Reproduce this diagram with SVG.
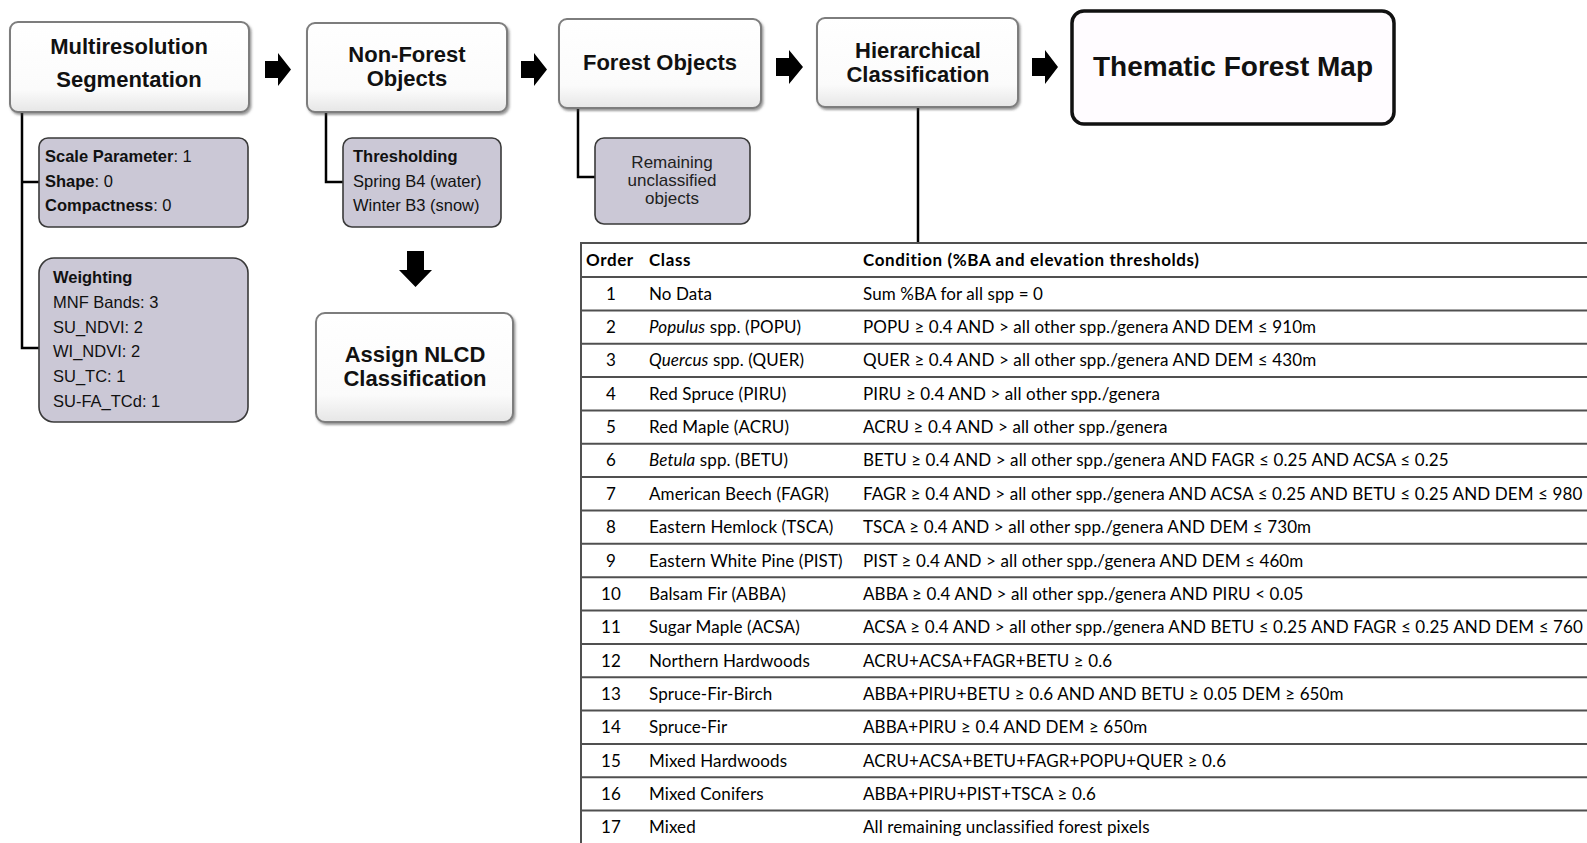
<svg xmlns="http://www.w3.org/2000/svg" width="1587" height="843" viewBox="0 0 1587 843">
<defs>
  <linearGradient id="gWhite" x1="0" y1="0" x2="0" y2="1">
    <stop offset="0" stop-color="#ffffff"/>
    <stop offset="0.75" stop-color="#fbfbfb"/>
    <stop offset="1" stop-color="#e6e6e6"/>
  </linearGradient>
  <filter id="shadow" x="-10%" y="-10%" width="125%" height="130%">
    <feDropShadow dx="1.5" dy="2" stdDeviation="1.2" flood-color="#444" flood-opacity="0.55"/>
  </filter>
</defs>
<style>
  .main { fill: url(#gWhite); stroke: #7d7d7d; stroke-width: 2; filter: url(#shadow); }
  .sub { fill: #cbc8d6; stroke: #3a3a3a; stroke-width: 1.6; }
  .big { fill: #fffcff; stroke: #111; stroke-width: 3.5; }
  .lbl { font-family: "Liberation Sans", Arial, sans-serif; font-weight: bold; font-size: 22px; fill: #111; text-anchor: middle; }
  .lblbig { font-family: "Liberation Sans", Arial, sans-serif; font-weight: bold; font-size: 28px; fill: #111; text-anchor: middle; }
  .sm { font-family: "Liberation Sans", Arial, sans-serif; font-size: 16.5px; fill: #111; }
  .smc { font-family: "Liberation Sans", Arial, sans-serif; font-size: 17px; fill: #222; text-anchor: middle; }
  .b { font-weight: bold; }
  .conn { fill: none; stroke: #000; stroke-width: 2.5; }
  .barrow { fill: #000; }
  .tline { stroke: #505050; stroke-width: 2; }
  .tt { font-family: Lato, "Carlito", "Open Sans", sans-serif; font-size: 17px; letter-spacing: 0.1px; fill: #000; }
  .th { letter-spacing: 0.6px; }
  .num { text-anchor: middle; }
  .i { font-style: italic; }
</style>

<g id="connectors">
  <polyline class="conn" points="22,112 22,348 39,348"/>
  <line class="conn" x1="22" y1="182" x2="39" y2="182"/>
  <polyline class="conn" points="326,112 326,182 343,182"/>
  <polyline class="conn" points="578,108 578,177 595,177"/>
  <line class="conn" x1="918" y1="107" x2="918" y2="243"/>
  <path class="barrow" d="M265,61 H278 V53 L291,69.5 L278,86 V78 H265 Z"/>
  <path class="barrow" d="M521,61 H534 V53 L547,69.5 L534,86 V78 H521 Z"/>
  <path class="barrow" d="M776,58 H789 V50 L803,67 L789,84 V76 H776 Z"/>
  <path class="barrow" d="M1032,58 H1045 V50 L1058,67 L1045,84 V76 H1032 Z"/>
  <path class="barrow" d="M407,251 H424 V270 H432 L415.5,287 L399,270 H407 Z"/>
</g>

<g id="multiresolution">
  <rect class="main" x="10" y="22" width="239" height="90" rx="8"/>
  <text class="lbl" x="129" y="54">Multiresolution</text>
  <text class="lbl" x="129" y="87">Segmentation</text>
</g>

<g id="scale-params">
  <rect class="sub" x="39" y="138" width="209" height="89" rx="9"/>
  <text class="sm" x="45" y="162"><tspan class="b">Scale Parameter</tspan>: 1</text>
  <text class="sm" x="45" y="187"><tspan class="b">Shape</tspan>: 0</text>
  <text class="sm" x="45" y="211"><tspan class="b">Compactness</tspan>: 0</text>
</g>

<g id="weighting">
  <rect class="sub" x="39" y="258" width="209" height="164" rx="15"/>
  <text class="sm b" x="53" y="283">Weighting</text>
  <text class="sm" x="53" y="308">MNF Bands: 3</text>
  <text class="sm" x="53" y="333">SU_NDVI: 2</text>
  <text class="sm" x="53" y="357">WI_NDVI: 2</text>
  <text class="sm" x="53" y="382">SU_TC: 1</text>
  <text class="sm" x="53" y="407">SU-FA_TCd: 1</text>
</g>

<g id="non-forest">
  <rect class="main" x="307" y="23" width="200" height="89" rx="8"/>
  <text class="lbl" x="407" y="62">Non-Forest</text>
  <text class="lbl" x="407" y="86">Objects</text>
</g>

<g id="thresholding">
  <rect class="sub" x="343" y="138" width="158" height="89" rx="9"/>
  <text class="sm b" x="353" y="162">Thresholding</text>
  <text class="sm" x="353" y="187">Spring B4 (water)</text>
  <text class="sm" x="353" y="211">Winter B3 (snow)</text>
</g>

<g id="assign-nlcd">
  <rect class="main" x="316" y="313" width="197" height="109" rx="9"/>
  <text class="lbl" x="415" y="362">Assign NLCD</text>
  <text class="lbl" x="415" y="386">Classification</text>
</g>

<g id="forest-objects">
  <rect class="main" x="559" y="19" width="202" height="89" rx="8"/>
  <text class="lbl" x="660" y="70">Forest Objects</text>
</g>

<g id="remaining">
  <rect class="sub" x="595" y="138" width="155" height="86" rx="9"/>
  <text class="smc" x="672" y="168">Remaining</text>
  <text class="smc" x="672" y="186">unclassified</text>
  <text class="smc" x="672" y="204">objects</text>
</g>

<g id="hierarchical">
  <rect class="main" x="817" y="18" width="201" height="89" rx="8"/>
  <text class="lbl" x="918" y="58">Hierarchical</text>
  <text class="lbl" x="918" y="82">Classification</text>
</g>

<g id="thematic-map">
  <rect class="big" x="1072" y="11" width="322" height="113" rx="12"/>
  <text class="lblbig" x="1233" y="76">Thematic Forest Map</text>
</g>

<g id="classification-table">
  <line class="tline" x1="581" y1="243" x2="581" y2="843"/>
  <line class="tline" x1="580" y1="243" x2="1587" y2="243"/>
  <line class="tline" x1="580" y1="277" x2="1587" y2="277"/>
  <line class="tline" x1="580" y1="310.4" x2="1587" y2="310.4"/>
  <line class="tline" x1="580" y1="343.7" x2="1587" y2="343.7"/>
  <line class="tline" x1="580" y1="377.1" x2="1587" y2="377.1"/>
  <line class="tline" x1="580" y1="410.4" x2="1587" y2="410.4"/>
  <line class="tline" x1="580" y1="443.8" x2="1587" y2="443.8"/>
  <line class="tline" x1="580" y1="477.1" x2="1587" y2="477.1"/>
  <line class="tline" x1="580" y1="510.5" x2="1587" y2="510.5"/>
  <line class="tline" x1="580" y1="543.8" x2="1587" y2="543.8"/>
  <line class="tline" x1="580" y1="577.2" x2="1587" y2="577.2"/>
  <line class="tline" x1="580" y1="610.5" x2="1587" y2="610.5"/>
  <line class="tline" x1="580" y1="643.9" x2="1587" y2="643.9"/>
  <line class="tline" x1="580" y1="677.2" x2="1587" y2="677.2"/>
  <line class="tline" x1="580" y1="710.6" x2="1587" y2="710.6"/>
  <line class="tline" x1="580" y1="743.9" x2="1587" y2="743.9"/>
  <line class="tline" x1="580" y1="777.3" x2="1587" y2="777.3"/>
  <line class="tline" x1="580" y1="810.6" x2="1587" y2="810.6"/>

  <text class="tt b th" x="586" y="266">Order</text>
  <text class="tt b th" x="649" y="266">Class</text>
  <text class="tt b th" x="863" y="266">Condition (%BA and elevation thresholds)</text>

  <text class="tt num" x="611" y="299.7">1</text>
  <text class="tt" x="649" y="299.7">No Data</text>
  <text class="tt" x="863" y="299.7">Sum %BA for all spp = 0</text>

  <text class="tt num" x="611" y="333">2</text>
  <text class="tt" x="649" y="333"><tspan class="i">Populus</tspan> spp. (POPU)</text>
  <text class="tt" x="863" y="333">POPU ≥ 0.4 AND &gt; all other spp./genera  AND DEM ≤ 910m</text>

  <text class="tt num" x="611" y="366.4">3</text>
  <text class="tt" x="649" y="366.4"><tspan class="i">Quercus</tspan> spp. (QUER)</text>
  <text class="tt" x="863" y="366.4">QUER ≥ 0.4 AND &gt; all other spp./genera  AND DEM ≤ 430m</text>

  <text class="tt num" x="611" y="399.7">4</text>
  <text class="tt" x="649" y="399.7">Red Spruce (PIRU)</text>
  <text class="tt" x="863" y="399.7">PIRU ≥ 0.4 AND &gt; all other spp./genera</text>

  <text class="tt num" x="611" y="433.1">5</text>
  <text class="tt" x="649" y="433.1">Red Maple (ACRU)</text>
  <text class="tt" x="863" y="433.1">ACRU ≥ 0.4 AND &gt; all other spp./genera</text>

  <text class="tt num" x="611" y="466.4">6</text>
  <text class="tt" x="649" y="466.4"><tspan class="i">Betula</tspan> spp. (BETU)</text>
  <text class="tt" x="863" y="466.4">BETU ≥ 0.4 AND &gt; all other spp./genera  AND FAGR ≤ 0.25 AND ACSA ≤ 0.25</text>

  <text class="tt num" x="611" y="499.8">7</text>
  <text class="tt" x="649" y="499.8">American Beech (FAGR)</text>
  <text class="tt" x="863" y="499.8">FAGR ≥ 0.4 AND &gt; all other spp./genera  AND ACSA ≤ 0.25 AND BETU ≤ 0.25 AND DEM ≤ 980</text>

  <text class="tt num" x="611" y="533.1">8</text>
  <text class="tt" x="649" y="533.1">Eastern Hemlock (TSCA)</text>
  <text class="tt" x="863" y="533.1">TSCA ≥ 0.4 AND &gt; all other spp./genera  AND DEM ≤ 730m</text>

  <text class="tt num" x="611" y="566.5">9</text>
  <text class="tt" x="649" y="566.5">Eastern White Pine (PIST)</text>
  <text class="tt" x="863" y="566.5">PIST ≥ 0.4 AND &gt; all other spp./genera  AND DEM ≤ 460m</text>

  <text class="tt num" x="611" y="599.8">10</text>
  <text class="tt" x="649" y="599.8">Balsam Fir (ABBA)</text>
  <text class="tt" x="863" y="599.8">ABBA ≥ 0.4 AND &gt; all other spp./genera  AND PIRU &lt; 0.05</text>

  <text class="tt num" x="611" y="633.2">11</text>
  <text class="tt" x="649" y="633.2">Sugar Maple (ACSA)</text>
  <text class="tt" x="863" y="633.2">ACSA ≥ 0.4 AND &gt; all other spp./genera  AND BETU ≤ 0.25 AND FAGR ≤ 0.25 AND DEM ≤ 760</text>

  <text class="tt num" x="611" y="666.5">12</text>
  <text class="tt" x="649" y="666.5">Northern Hardwoods</text>
  <text class="tt" x="863" y="666.5">ACRU+ACSA+FAGR+BETU  ≥ 0.6</text>

  <text class="tt num" x="611" y="699.9">13</text>
  <text class="tt" x="649" y="699.9">Spruce-Fir-Birch</text>
  <text class="tt" x="863" y="699.9">ABBA+PIRU+BETU ≥ 0.6 AND AND BETU ≥ 0.05  DEM ≥ 650m</text>

  <text class="tt num" x="611" y="733.2">14</text>
  <text class="tt" x="649" y="733.2">Spruce-Fir</text>
  <text class="tt" x="863" y="733.2">ABBA+PIRU ≥ 0.4 AND DEM ≥ 650m</text>

  <text class="tt num" x="611" y="766.6">15</text>
  <text class="tt" x="649" y="766.6">Mixed Hardwoods</text>
  <text class="tt" x="863" y="766.6">ACRU+ACSA+BETU+FAGR+POPU+QUER  ≥ 0.6</text>

  <text class="tt num" x="611" y="799.9">16</text>
  <text class="tt" x="649" y="799.9">Mixed Conifers</text>
  <text class="tt" x="863" y="799.9">ABBA+PIRU+PIST+TSCA ≥ 0.6</text>

  <text class="tt num" x="611" y="833.3">17</text>
  <text class="tt" x="649" y="833.3">Mixed</text>
  <text class="tt" x="863" y="833.3">All remaining unclassified forest pixels</text>
</g>
</svg>
